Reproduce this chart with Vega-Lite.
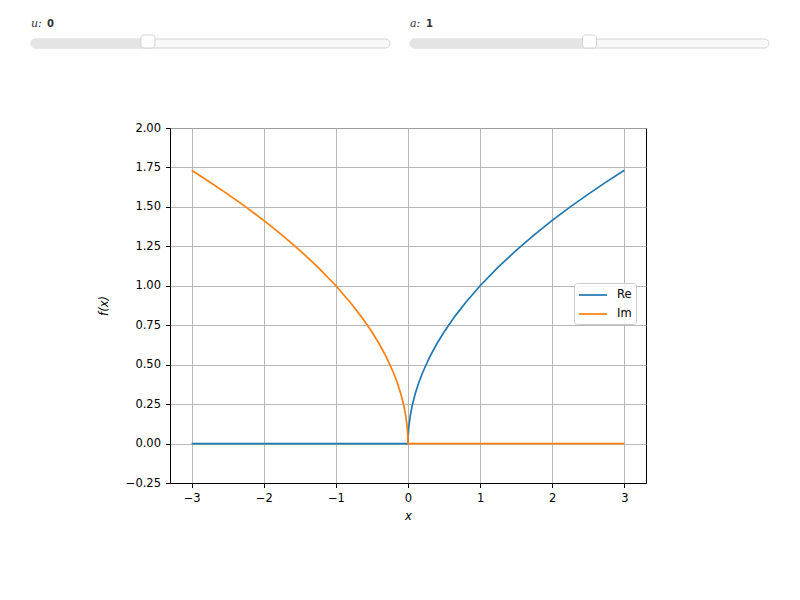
{
  "$schema": "https://vega.github.io/schema/vega-lite/v6.json",
  "background": "white",
  "padding": {"left": 30, "top": 17, "right": 0, "bottom": 0},
  "spacing": 72,
  "config": {
    "font": "DejaVu Sans",
    "axis": {
      "labelFont": "DejaVu Sans",
      "titleFont": "DejaVu Sans",
      "labelFontSize": 11.5,
      "titleFontSize": 11.5,
      "titleFontWeight": "normal",
      "labelColor": "black",
      "titleColor": "black",
      "domainColor": "black",
      "domainWidth": 1,
      "tickColor": "black",
      "tickSize": 4.5,
      "tickWidth": 1,
      "labelPadding": 5,
      "gridColor": "#b0b0b0",
      "gridWidth": 0.9
    }
  },
  "vconcat": [
    {
      "spacing": 18,
      "hconcat": [
        {
          "width": 359,
          "height": 9,
          "view": {"stroke": null},
          "data": {"values": [{"name": "u", "label": "u:", "value": 0, "min": -5, "max": 10.35}]},
          "layer": [
            {
              "mark": {"type": "rect", "fill": "#f8f8f8", "stroke": "#d4d4d4", "strokeWidth": 1, "cornerRadius": 4.5},
              "encoding": {
                "x": {"field": "min", "type": "quantitative", "scale": {"domain": [-5, 10.35], "nice": false, "zero": false}, "axis": null},
                "x2": {"field": "max"}
              }
            },
            {
              "mark": {"type": "rect", "fill": "#e4e4e4", "cornerRadius": 4.5},
              "encoding": {
                "x": {"field": "min", "type": "quantitative"},
                "x2": {"field": "value"}
              }
            },
            {
              "mark": {"type": "rect", "fill": "white", "stroke": "#d2d2d2", "strokeWidth": 1, "cornerRadius": 3, "xOffset": -7, "x2Offset": 7, "yOffset": -4, "y2Offset": 4},
              "encoding": {
                "x": {"field": "value", "type": "quantitative"},
                "x2": {"field": "value"}
              }
            },
            {
              "mark": {"type": "text", "font": "DejaVu Serif", "fontStyle": "italic", "fontSize": 11, "align": "left", "baseline": "middle", "dy": -20, "color": "#333333"},
              "encoding": {
                "x": {"field": "min", "type": "quantitative"},
                "text": {"field": "label"}
              }
            },
            {
              "mark": {"type": "text", "font": "DejaVu Sans", "fontWeight": "bold", "fontSize": 10, "align": "left", "baseline": "middle", "dy": -20, "dx": 16, "color": "#333333"},
              "encoding": {
                "x": {"field": "min", "type": "quantitative"},
                "text": {"field": "value", "type": "quantitative"}
              }
            }
          ]
        },
        {
          "width": 359,
          "height": 9,
          "view": {"stroke": null},
          "data": {"values": [{"name": "a", "label": "a:", "value": 1, "min": 0, "max": 2}]},
          "layer": [
            {
              "mark": {"type": "rect", "fill": "#f8f8f8", "stroke": "#d4d4d4", "strokeWidth": 1, "cornerRadius": 4.5},
              "encoding": {
                "x": {"field": "min", "type": "quantitative", "scale": {"domain": [0, 2], "nice": false, "zero": false}, "axis": null},
                "x2": {"field": "max"}
              }
            },
            {
              "mark": {"type": "rect", "fill": "#e4e4e4", "cornerRadius": 4.5},
              "encoding": {
                "x": {"field": "min", "type": "quantitative"},
                "x2": {"field": "value"}
              }
            },
            {
              "mark": {"type": "rect", "fill": "white", "stroke": "#d2d2d2", "strokeWidth": 1, "cornerRadius": 3, "xOffset": -7, "x2Offset": 7, "yOffset": -4, "y2Offset": 4},
              "encoding": {
                "x": {"field": "value", "type": "quantitative"},
                "x2": {"field": "value"}
              }
            },
            {
              "mark": {"type": "text", "font": "DejaVu Serif", "fontStyle": "italic", "fontSize": 11, "align": "left", "baseline": "middle", "dy": -20, "color": "#333333"},
              "encoding": {
                "x": {"field": "min", "type": "quantitative"},
                "text": {"field": "label"}
              }
            },
            {
              "mark": {"type": "text", "font": "DejaVu Sans", "fontWeight": "bold", "fontSize": 10, "align": "left", "baseline": "middle", "dy": -20, "dx": 16, "color": "#333333"},
              "encoding": {
                "x": {"field": "min", "type": "quantitative"},
                "text": {"field": "value", "type": "quantitative"}
              }
            }
          ]
        }
      ]
    },
    {
      "spacing": 0,
      "hconcat": [
        {
          "width": 1,
          "height": 1,
          "view": {"stroke": null},
          "data": {"values": []},
          "mark": {"type": "point", "opacity": 0}
        },
        {
          "width": 476,
          "height": 355,
          "view": {"stroke": "black", "strokeWidth": 1},
          "data": {
            "values": [
              {"x": -3, "f": 0, "part": "Re"},
              {"x": -2, "f": 0, "part": "Re"},
              {"x": -1, "f": 0, "part": "Re"},
              {"x": 0, "f": 0, "part": "Re"},
              {"x": 0.002, "f": 0.0447, "part": "Re"},
              {"x": 0.01, "f": 0.1, "part": "Re"},
              {"x": 0.03, "f": 0.1732, "part": "Re"},
              {"x": 0.06, "f": 0.2449, "part": "Re"},
              {"x": 0.1, "f": 0.3162, "part": "Re"},
              {"x": 0.15, "f": 0.3873, "part": "Re"},
              {"x": 0.2, "f": 0.4472, "part": "Re"},
              {"x": 0.3, "f": 0.5477, "part": "Re"},
              {"x": 0.4, "f": 0.6325, "part": "Re"},
              {"x": 0.5, "f": 0.7071, "part": "Re"},
              {"x": 0.65, "f": 0.8062, "part": "Re"},
              {"x": 0.8, "f": 0.8944, "part": "Re"},
              {"x": 1, "f": 1, "part": "Re"},
              {"x": 1.25, "f": 1.118, "part": "Re"},
              {"x": 1.5, "f": 1.2247, "part": "Re"},
              {"x": 1.75, "f": 1.3229, "part": "Re"},
              {"x": 2, "f": 1.4142, "part": "Re"},
              {"x": 2.25, "f": 1.5, "part": "Re"},
              {"x": 2.5, "f": 1.5811, "part": "Re"},
              {"x": 2.75, "f": 1.6583, "part": "Re"},
              {"x": 3, "f": 1.7321, "part": "Re"},
              {"x": -3, "f": 1.7321, "part": "Im"},
              {"x": -2.75, "f": 1.6583, "part": "Im"},
              {"x": -2.5, "f": 1.5811, "part": "Im"},
              {"x": -2.25, "f": 1.5, "part": "Im"},
              {"x": -2, "f": 1.4142, "part": "Im"},
              {"x": -1.75, "f": 1.3229, "part": "Im"},
              {"x": -1.5, "f": 1.2247, "part": "Im"},
              {"x": -1.25, "f": 1.118, "part": "Im"},
              {"x": -1, "f": 1, "part": "Im"},
              {"x": -0.8, "f": 0.8944, "part": "Im"},
              {"x": -0.65, "f": 0.8062, "part": "Im"},
              {"x": -0.5, "f": 0.7071, "part": "Im"},
              {"x": -0.4, "f": 0.6325, "part": "Im"},
              {"x": -0.3, "f": 0.5477, "part": "Im"},
              {"x": -0.2, "f": 0.4472, "part": "Im"},
              {"x": -0.15, "f": 0.3873, "part": "Im"},
              {"x": -0.1, "f": 0.3162, "part": "Im"},
              {"x": -0.06, "f": 0.2449, "part": "Im"},
              {"x": -0.03, "f": 0.1732, "part": "Im"},
              {"x": -0.01, "f": 0.1, "part": "Im"},
              {"x": -0.002, "f": 0.0447, "part": "Im"},
              {"x": 0, "f": 0, "part": "Im"},
              {"x": 1, "f": 0, "part": "Im"},
              {"x": 2, "f": 0, "part": "Im"},
              {"x": 3, "f": 0, "part": "Im"}
            ]
          },
          "mark": {"type": "line", "strokeWidth": 1.7},
          "encoding": {
            "x": {
              "field": "x",
              "type": "quantitative",
              "scale": {"domain": [-3.3, 3.3], "nice": false, "zero": false},
              "axis": {"values": [-3, -2, -1, 0, 1, 2, 3], "format": "d", "title": "x", "titleFontStyle": "italic", "titlePadding": 6}
            },
            "y": {
              "field": "f",
              "type": "quantitative",
              "scale": {"domain": [-0.25, 2], "nice": false, "zero": false},
              "axis": {"values": [-0.25, 0, 0.25, 0.5, 0.75, 1, 1.25, 1.5, 1.75, 2], "format": ".2f", "title": "f(x)", "titleFontStyle": "italic", "minExtent": 137, "titleX": -61}
            },
            "color": {
              "field": "part",
              "type": "nominal",
              "sort": ["Re", "Im"],
              "scale": {"domain": ["Re", "Im"], "range": ["#1f77b4", "#ff7f0e"]},
              "legend": {
                "title": null,
                "orient": "none",
                "legendX": 543,
                "legendY": 244,
                "symbolType": "M-2,0H2",
                "symbolSize": 196,
                "symbolOffset": 7,
                "symbolStrokeWidth": 1.7,
                "labelFontSize": 11.5,
                "labelFont": "DejaVu Sans",
                "labelColor": "black",
                "labelOffset": 16,
                "rowPadding": 5,
                "padding": 4,
                "strokeColor": "#cccccc",
                "fillColor": "rgba(255,255,255,0.8)",
                "cornerRadius": 3
              }
            }
          }
        }
      ]
    }
  ]
}
